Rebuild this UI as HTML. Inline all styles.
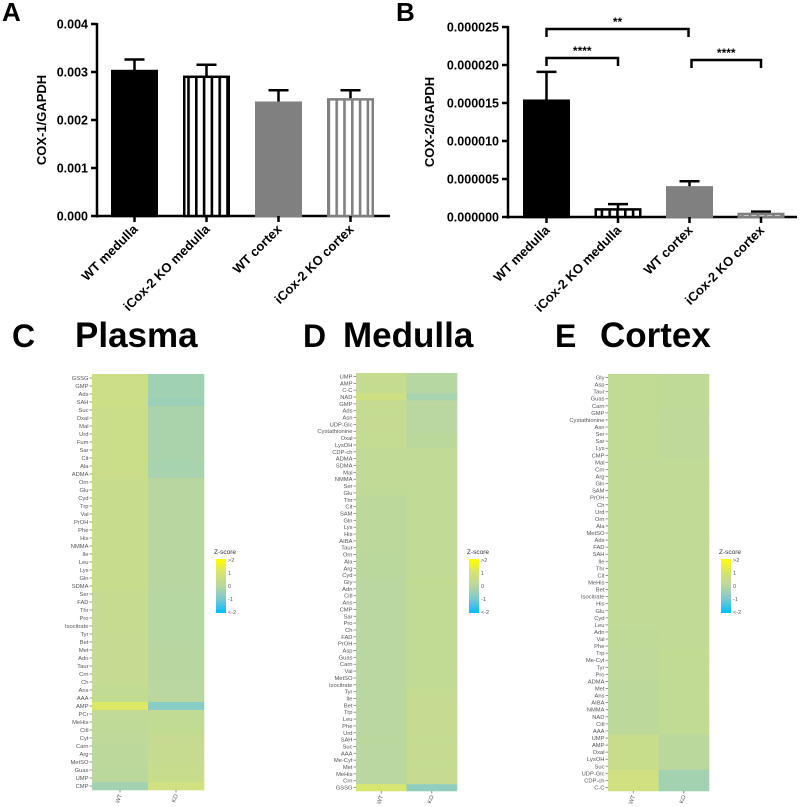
<!DOCTYPE html>
<html><head><meta charset="utf-8"><style>
html,body{margin:0;padding:0;background:#fff;}
svg{display:block;font-family:"Liberation Sans",Arial,sans-serif;}
</style></head><body>
<svg id="fig" width="800" height="807" viewBox="0 0 800 807" xmlns="http://www.w3.org/2000/svg">
<defs>
<pattern id="stripeK" width="7.8" height="10" patternUnits="userSpaceOnUse"><rect width="7.8" height="10" fill="#fff"/><rect x="0" width="2.6" height="10" fill="#000"/></pattern>
<pattern id="stripeG" width="7.8" height="10" patternUnits="userSpaceOnUse"><rect width="7.8" height="10" fill="#fff"/><rect x="0" width="2.6" height="10" fill="#808080"/></pattern>
<linearGradient id="zgrad" x1="0" y1="0" x2="0" y2="1">
<stop offset="0" stop-color="#ffff00"/><stop offset="0.25" stop-color="#d7e46e"/><stop offset="0.5" stop-color="#b9d7a0"/><stop offset="0.75" stop-color="#78c8d2"/><stop offset="1" stop-color="#00beff"/></linearGradient>
</defs>
<g id="gA"></g>
<g id="gB"></g>
<g id="gC"></g>
<g id="gD"></g>
<g id="gE"></g>
</svg>
<script>
const barCategories = ["WT medulla","iCox-2 KO medulla","WT cortex","iCox-2 KO cortex"];
const cox1Values = [0.00302,0.00290,0.00236,0.00243];
const cox1Errors = [0.00024,0.00025,0.00026,0.00019];
const cox1Ticks = ["0.000","0.001","0.002","0.003","0.004"];
const cox2Values = [15.3,1.0,3.9,0.4];
const cox2Errors = [3.8,0.7,0.8,0.3];
const cox2Ticks = ["0.000000","0.000005","0.000010","0.000015","0.000020","0.000025"];

const plasmaRows = ["GSSG","GMP","Ads","SAH","Suc","Oxal","Mal","Urd","Fum","Sar","Cit","Ala","ADMA","Orn","Glu","Cyd","Trp","Val","PrOH","Phe","His","NMMA","Ile","Leu","Lys","Gln","SDMA","Ser","FAD","Thr","Pro","Isocitrate","Tyr","Bet","Met","Adn","Taur","Crn","Ch","Ans","AAA","AMP","PCr","MeHis","Citl","Cyt","Carn","Arg","MetSO","Guas","UMP","CMP"];
const plasmaWT = [0.75,0.75,0.75,0.75,0.65,0.65,0.65,0.65,0.65,0.65,0.65,0.65,0.65,0.55,0.55,0.55,0.55,0.55,0.55,0.55,0.55,0.55,0.55,0.55,0.55,0.55,0.55,0.5,0.5,0.5,0.5,0.5,0.45,0.45,0.45,0.45,0.45,0.45,0.45,0.4,0.4,1.2,0.35,0.3,0.3,0.25,0.2,0.2,0.2,0.15,0.15,-0.3];
const plasmaKO = [-0.35,-0.35,-0.35,-0.45,-0.2,-0.2,-0.2,-0.2,-0.2,-0.2,-0.2,-0.25,-0.25,0.05,0.05,0.05,0.05,0.05,0.05,0.05,0.05,0.05,0.05,0.05,0.05,0.05,0.05,0.0,0.0,0.0,0.0,0.0,0.0,0.0,0.05,0.05,0.05,0.05,0.1,0.1,0.1,-0.75,0.4,0.4,0.4,0.45,0.45,0.5,0.5,0.55,0.6,0.9];

const medullaRows = ["UMP","AMP","C-C","NAD","GMP","Ads","Asn","UDP-Glc","Cystathionine","Oxal","LysOH","CDP-ch","ADMA","SDMA","Mal","NMMA","Ser","Glu","Thr","Cit","SAM","Gln","Lys","His","AIBA","Taur","Orn","Ala","Arg","Cyd","Gly","Adn","Citl","Ans","CMP","Sar","Pro","Ch","FAD","PrOH","Asp","Guas","Carn","Val","MetSO","Isocitrate","Tyr","Ile","Bet","Trp","Leu","Phe","Urd","SAH","Suc","AAA","Me-Cyt","Met","MeHis","Crn","GSSG"];
const medullaWT = [0.5,0.5,0.5,0.8,0.45,0.45,0.45,0.45,0.45,0.45,0.45,0.35,0.35,0.35,0.35,0.35,0.35,0.3,0.2,0.2,0.2,0.2,0.2,0.2,0.2,0.2,0.15,0.15,0.15,0.15,0.1,0.1,0.1,0.1,0.1,0.1,0.1,0.1,0.1,0.1,0.1,0.1,0.1,0.1,0.1,0.1,0.1,0.1,0.1,0.1,0.1,0.1,0.1,0.1,0.1,0.1,0.1,0.1,0.1,0.1,1.1];
const medullaKO = [0.0,0.0,0.0,-0.25,0.1,0.1,0.1,0.1,0.1,0.15,0.15,0.35,0.35,0.35,0.35,0.35,0.35,0.35,0.35,0.35,0.35,0.35,0.35,0.35,0.35,0.35,0.35,0.35,0.35,0.35,0.4,0.4,0.4,0.4,0.4,0.4,0.4,0.4,0.4,0.4,0.4,0.4,0.4,0.4,0.4,0.4,0.45,0.45,0.45,0.45,0.45,0.45,0.45,0.45,0.45,0.45,0.45,0.45,0.45,0.45,-0.6];

const cortexRows = ["Gly","Asp","Taur","Guas","Carn","GMP","Cystathionine","Asn","Ser","Sar","Lys","CMP","Mal","Crn","Arg","Gln","SAM","PrOH","Ch","Urd","Orn","Ala","MetSO","Ads","FAD","SAH","Ile","Thr","Cit","MeHis","Bet","Isocitrate","His","Glu","Cyd","Leu","Adn","Val","Phe","Trp","Me-Cyt","Tyr","Pro","ADMA","Met","Ans","AIBA","NMMA","NAD","Citl","AAA","UMP","AMP","Oxal","LysOH","Suc","UDP-Glc","CDP-ch","C-C"];
const cortexWT = [0.4,0.4,0.4,0.4,0.4,0.4,0.4,0.4,0.4,0.4,0.4,0.4,0.35,0.35,0.35,0.35,0.35,0.35,0.35,0.35,0.35,0.35,0.35,0.35,0.35,0.35,0.35,0.35,0.35,0.35,0.35,0.35,0.35,0.35,0.35,0.35,0.3,0.3,0.3,0.25,0.25,0.25,0.25,0.2,0.2,0.2,0.2,0.2,0.2,0.2,0.2,0.6,0.6,0.6,0.6,0.6,0.9,0.9,0.9];
const cortexKO = [0.3,0.3,0.3,0.3,0.3,0.25,0.25,0.25,0.25,0.25,0.25,0.25,0.35,0.35,0.35,0.35,0.35,0.35,0.35,0.35,0.35,0.35,0.35,0.35,0.35,0.35,0.35,0.35,0.35,0.35,0.35,0.35,0.35,0.35,0.35,0.35,0.35,0.35,0.35,0.4,0.4,0.4,0.4,0.4,0.4,0.4,0.4,0.4,0.4,0.4,0.4,0.15,0.15,0.15,0.15,0.15,-0.3,-0.3,-0.3];
const heatCols = ["WT","KO"];

const NS="http://www.w3.org/2000/svg";
function mk(parent,tag,attrs,text){const e=document.createElementNS(NS,tag);for(const k in attrs)e.setAttribute(k,attrs[k]);if(text!==undefined)e.textContent=text;parent.appendChild(e);return e;}

function barChart(g,o){
  const yS=v=>o.y0-(v/o.max)*(o.y0-o.yTop);
  const xS=i=>o.xStart+i*o.step;
  let a=mk(g,'line',{x1:o.ax,y1:o.yTop-1,x2:o.ax,y2:o.y0+1.5,stroke:'#000','stroke-width':2.5});
  
  a=mk(g,'line',{x1:o.ax-1,y1:o.y0,x2:o.axEnd,y2:o.y0,stroke:'#000','stroke-width':2.5});
  
  o.ticks.forEach((t,i)=>{const v=o.max*i/(o.ticks.length-1);const y=yS(v);
    mk(g,'line',{x1:o.ax-6,y1:y,x2:o.ax,y2:y,stroke:'#000','stroke-width':2.5});
    const tx=mk(g,'text',{x:o.ax-9,y:y+4.5,'text-anchor':'end','font-size':12.5,'font-weight':'bold'},t);
    });
  const yt=mk(g,'text',{transform:`translate(${o.titleX},${(o.yTop+o.y0)/2}) rotate(-90)`,'text-anchor':'middle','font-size':13,'font-weight':'bold'},o.title);
  
  const fills=['#000','url(#stripeK)','#808080','url(#stripeG)'];
  const strokes=['#000','#000','#808080','#808080'];
  o.values.forEach((v,i)=>{const x=xS(i),cx=x+o.bw/2;
    const top=yS(v+o.errs[i]);
    mk(g,'line',{x1:cx,y1:yS(v),x2:cx,y2:top,stroke:'#000','stroke-width':2.5});
    mk(g,'line',{x1:cx-10,y1:top,x2:cx+10,y2:top,stroke:'#000','stroke-width':2.5});
    const r=mk(g,'rect',{x:x+1.25,y:yS(v),width:o.bw-2.5,height:Math.max(o.y0-yS(v),0.5),fill:fills[i],stroke:strokes[i],'stroke-width':2.5});
    
    mk(g,'line',{x1:cx,y1:o.y0,x2:cx,y2:o.y0+6,stroke:'#000','stroke-width':2.5});
    const lb=mk(g,'text',{transform:`translate(${cx+4},${o.y0+14}) rotate(-45)`,'text-anchor':'end','font-size':13,'font-weight':'bold'},barCategories[i]);
    
  });
  return {xS,yS};
}
const gA=document.getElementById('gA');
let L=mk(gA,'text',{x:2,y:21,'font-size':26,'font-weight':'bold'},'A');
barChart(gA,{ax:97,axEnd:390,y0:216,yTop:24,max:0.004,xStart:111,step:72,bw:47,ticks:cox1Ticks,values:cox1Values,errs:cox1Errors,title:'COX-1/GAPDH',titleX:46});
const gB=document.getElementById('gB');
L=mk(gB,'text',{x:396,y:21,'font-size':26,'font-weight':'bold'},'B');
const sB=barChart(gB,{ax:508,axEnd:797,y0:217,yTop:27,max:25,xStart:523,step:71.5,bw:47,ticks:cox2Ticks,values:cox2Values,errs:cox2Errors,title:'COX-2/GAPDH',titleX:434});
function bracket(x1,x2,y,label,nm){
  const p=mk(gB,'path',{d:`M${x1},${y+8}V${y}H${x2}V${y+8}`,fill:'none',stroke:'#000','stroke-width':2.5});
  
  const t=mk(gB,'text',{x:(x1+x2)/2,y:y-3,'text-anchor':'middle','font-size':12,'font-weight':'bold'},label);
  
}
const c=i=>sB.xS(i)+23.5;
bracket(c(0),c(2)-1,29,'**','significance-bracket-wt-medulla-vs-wt-cortex');
bracket(c(0),c(1),58,'****','significance-bracket-medulla');
bracket(c(2)+2,c(3),60,'****','significance-bracket-cortex');

const stops=[[-2,[0,190,255]],[-1,[120,200,210]],[0,[182,214,162]],[1,[212,226,125]],[2,[255,255,0]]];
function zcol(z){z=Math.max(-2,Math.min(2,z));for(let i=0;i<stops.length-1;i++){const[a,ca]=stops[i],[b,cb]=stops[i+1];if(z<=b){const t=(z-a)/(b-a);return`rgb(${ca.map((v,k)=>Math.round(v+(cb[k]-v)*t)).join(',')})`;}}return'rgb(255,255,0)';}
function heat(g,o){
  let t=mk(g,'text',{x:o.letterX,y:347,'font-size':32,'font-weight':'bold'},o.letter);
  t=mk(g,'text',{x:o.titleX,y:347,'font-size':35,'font-weight':'bold'},o.title);
  const n=o.rows.length,rh=(o.y1-o.y0)/n,cw=(o.x1-o.x0)/2;
  [o.wt,o.ko].forEach((vals,j)=>{vals.forEach((z,i)=>{
    const r=mk(g,'rect',{x:o.x0+j*cw,y:o.y0+i*rh,width:cw+0.3,height:rh+0.3,fill:zcol(z)});
    });});
  o.rows.forEach((nm,i)=>{const y=o.y0+(i+0.5)*rh;
    mk(g,'line',{x1:o.x0-2.5,y1:y,x2:o.x0,y2:y,stroke:'#777','stroke-width':0.8});
    const l=mk(g,'text',{x:o.x0-3.5,y:y+2,'text-anchor':'end','font-size':5.8,fill:'#555'},nm);
    });
  heatCols.forEach((cn,j)=>{const x=o.x0+(j+0.5)*cw;
    mk(g,'line',{x1:x,y1:o.y1,x2:x,y2:o.y1+2.5,stroke:'#777','stroke-width':0.8});
    const l=mk(g,'text',{transform:`translate(${x+2},${o.y1+5}) rotate(-70)`,'text-anchor':'end','font-size':5.8,fill:'#555'},cn);
    });
  const lx=o.x1+12;
  t=mk(g,'text',{x:lx-2,y:554,'font-size':6.5,fill:'#333'},'Z-score');
  const lg=mk(g,'rect',{x:lx,y:559,width:10,height:54,fill:'url(#zgrad)'});
  ['>2','1','0','-1','<-2'].forEach((s,i)=>{const y=560+i*13;
    const tl=mk(g,'text',{x:lx+12,y:y+2,'font-size':5.5,fill:'#555'},s);});
}
heat(document.getElementById('gC'),{letter:'C',letterX:12,title:'Plasma',titleX:75,rows:plasmaRows,wt:plasmaWT,ko:plasmaKO,x0:92,x1:204,y0:374,y1:790});
heat(document.getElementById('gD'),{letter:'D',letterX:303,title:'Medulla',titleX:343,rows:medullaRows,wt:medullaWT,ko:medullaKO,x0:356,x1:457,y0:373,y1:791});
heat(document.getElementById('gE'),{letter:'E',letterX:555,title:'Cortex',titleX:600,rows:cortexRows,wt:cortexWT,ko:cortexKO,x0:608,x1:709,y0:374,y1:791});
</script>
</body></html>
